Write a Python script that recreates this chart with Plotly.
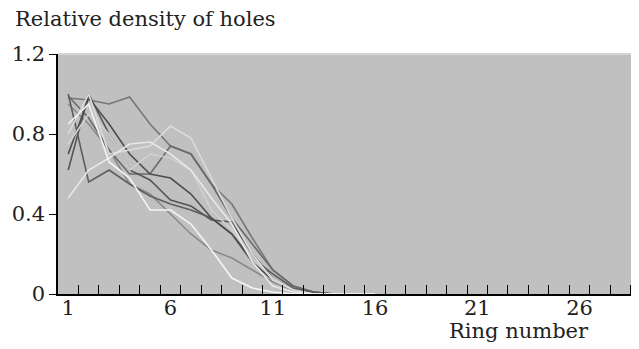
import plotly.graph_objects as go

rings = list(range(1, 17))

s1 = [0.62, 1.00, 0.80, 0.62, 0.57, 0.47, 0.44, 0.37, 0.36, 0.20, 0.08, 0.02, 0.005, 0, 0, 0]
s2 = [1.00, 0.56, 0.62, 0.55, 0.49, 0.45, 0.42, 0.38, 0.30, 0.18, 0.10, 0.03, 0.01, 0, 0, 0]
s3 = [0.98, 0.97, 0.95, 0.985, 0.85, 0.74, 0.70, 0.55, 0.45, 0.28, 0.12, 0.04, 0.01, 0, 0, 0]
s4 = [0.70, 0.98, 0.85, 0.70, 0.60, 0.58, 0.50, 0.38, 0.30, 0.16, 0.07, 0.02, 0.005, 0, 0, 0]
s5 = [0.48, 0.62, 0.68, 0.75, 0.76, 0.70, 0.62, 0.48, 0.35, 0.16, 0.04, 0.01, 0, 0, 0, 0]
s6 = [0.80, 1.00, 0.70, 0.72, 0.74, 0.84, 0.78, 0.58, 0.38, 0.20, 0.07, 0.02, 0, 0, 0, 0]
s7 = [0.85, 0.95, 0.66, 0.58, 0.42, 0.42, 0.35, 0.22, 0.08, 0.03, 0.01, 0, 0, 0, 0, 0]
s8 = [0.95, 0.85, 0.72, 0.55, 0.50, 0.40, 0.30, 0.22, 0.18, 0.12, 0.06, 0.02, 0.005, 0, 0, 0]
s9 = [0.99, 0.88, 0.72, 0.60, 0.60, 0.74, 0.70, 0.55, 0.38, 0.25, 0.12, 0.04, 0.01, 0, 0, 0]
s10 = [0.75, 0.90, 0.80, 0.62, 0.70, 0.68, 0.62, 0.42, 0.32, 0.18, 0.08, 0.02, 0, 0, 0, 0]

series = [s8, s3, s9, s1, s2, s4, s10, s6, s5, s7]
colors = ["#8a8a8a", "#777777", "#6a6a6a", "#555555", "#5e5e5e", "#4e4e4e",
          "#d0d0d0", "#dcdcdc", "#e8e8e8", "#f4f4f4"]

x_labels = [1, 6, 11, 16, 21, 26]
minor_ticks = [i + 0.5 for i in range(1, 29)]
y_ticks = [0, 0.4, 0.8, 1.2]
y_labels = ["0", "0.4", "0.8", "1.2"]

font = "DejaVu Serif"
fs = 21

fig = go.Figure()
for s, c in zip(series, colors):
    fig.add_trace(go.Scatter(x=rings, y=s, mode="lines",
                             line=dict(color=c, width=1.6), showlegend=False))

fig.update_layout(
    width=639, height=349,
    margin=dict(l=50, r=1, t=46, b=63),
    paper_bgcolor="white",
    plot_bgcolor="#c0c0c0",
    font=dict(family=font, size=fs, color="#222222"),
    xaxis=dict(range=[0.5, 29.25], tickvals=x_labels, ticktext=[str(v) for v in x_labels],
               ticks="", showgrid=False, zeroline=False, showline=True,
               linecolor="black", linewidth=1.5, ticklabelstandoff=-6,
               minor=dict(tickvals=minor_ticks, ticks="inside", ticklen=9,
                          tickcolor="black", tickwidth=1.2, showgrid=False)),
    yaxis=dict(range=[0, 1.2], tickvals=y_ticks, ticktext=y_labels,
               ticks="outside", ticklen=7, tickcolor="black", showgrid=False,
               zeroline=False, showline=True, linecolor="black", linewidth=1.5),
    shapes=[dict(type="line", xref="paper", yref="paper", x0=0, x1=1, y0=1, y1=1,
                 line=dict(color="#d4d4d4", width=2))],
    annotations=[
        dict(text="Relative density of holes", xref="paper", yref="paper",
             x=-45/588, y=1.0, xanchor="left", yanchor="bottom", yshift=21,
             showarrow=False, font=dict(family=font, size=fs)),
        dict(text="Ring number", xref="paper", yref="paper",
             x=533/588, y=0, xanchor="right", yanchor="top", yshift=-23,
             showarrow=False, font=dict(family=font, size=fs)),
    ],
)

fig.write_html("out.html")
